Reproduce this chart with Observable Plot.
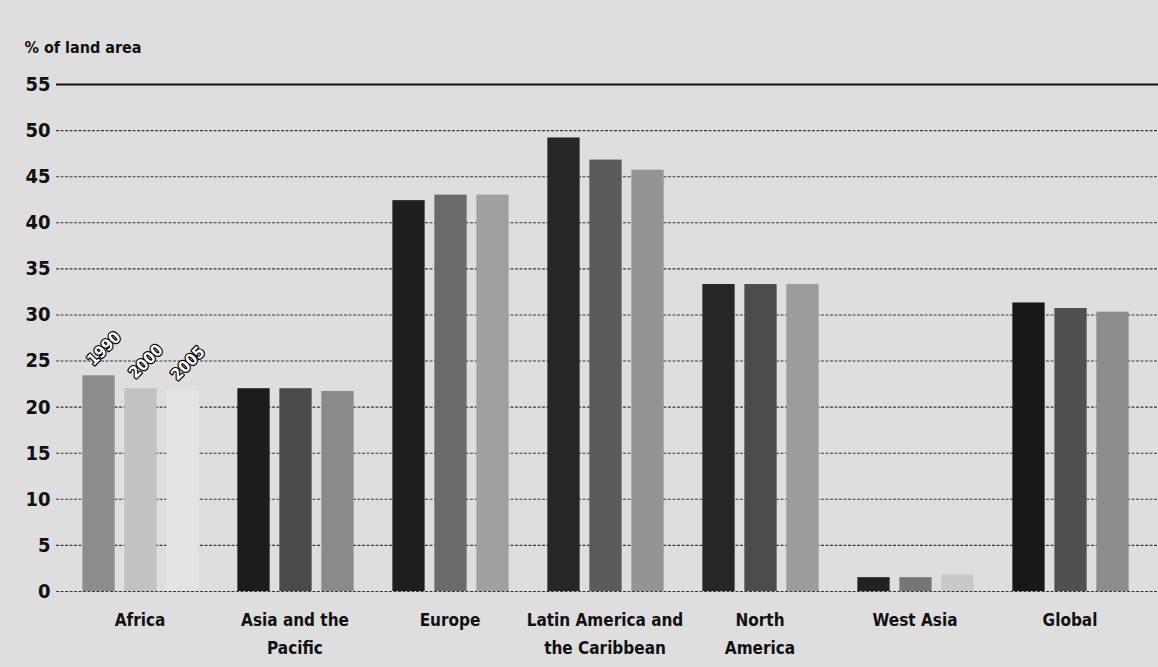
<!DOCTYPE html>
<html>
<head>
<meta charset="utf-8">
<script src="https://cdn.jsdelivr.net/npm/d3@7"></script>
<script src="https://cdn.jsdelivr.net/npm/@observablehq/plot@0.6"></script>
<style>
  html, body { margin: 0; padding: 0; background: #dedede; }
  #chart svg { display: block; }
</style>
</head>
<body>
<div id="chart"></div>
<script>
// ---- data ----
const regions = ["Africa", "Asia and the Pacific", "Europe", "Latin America and the Caribbean", "North America", "West Asia", "Global"];
const regionLabels = ["Africa", "Asia and the\nPacific", "Europe", "Latin America and\nthe Caribbean", "North\nAmerica", "West Asia", "Global"];
const years = ["1990", "2000", "2005"];
const forest1990 = [23.4, 22.0, 42.4, 49.2, 33.3, 1.5, 31.3];
const forest2000 = [22.0, 22.0, 43.0, 46.8, 33.3, 1.5, 30.7];
const forest2005 = [21.8, 21.7, 43.0, 45.7, 33.3, 1.8, 30.3];
const yTicks = [0, 5, 10, 15, 20, 25, 30, 35, 40, 45, 50, 55];
const yLabel = "% of land area";

// ---- styles ----
const shades = {
  "Africa": ["#8c8c8c", "#c2c2c2", "#e4e4e4"],
  "Asia and the Pacific": ["#1c1c1c", "#4a4a4a", "#8a8a8a"],
  "Europe": ["#1e1e1e", "#6a6a6a", "#a0a0a0"],
  "Latin America and the Caribbean": ["#262626", "#5a5a5a", "#949494"],
  "North America": ["#262626", "#4c4c4c", "#9c9c9c"],
  "West Asia": ["#222222", "#767676", "#c8c8c8"],
  "Global": ["#181818", "#505050", "#8c8c8c"]
};
const FONT = "'DejaVu Sans Condensed', 'DejaVu Sans', sans-serif";
const series = [forest1990, forest2000, forest2005];
const step = 155.7, barW = 33, barStep = 42;
const inset = (step - barW) / 2;

const marks = [
  Plot.ruleY(yTicks.filter(t => t < 55), {stroke: "#3a3a3a", strokeWidth: 1.1, strokeDasharray: "3,1.5"}),
  Plot.ruleY([55], {stroke: "#111", strokeWidth: 2.2})
];

series.forEach((vals, i) => {
  const rows = regions.map((r, j) => ({region: r, year: years[i], value: vals[j]}));
  marks.push(Plot.barY(rows, {
    x: "region", y: "value",
    fill: d => shades[d.region][i],
    dx: (i - 1) * barStep - 1,
    insetLeft: inset, insetRight: inset
  }));
  marks.push(Plot.text(rows.filter(d => d.region === "Africa"), {
    x: "region", y: "value", text: "year",
    dx: (i - 1) * barStep - 10, dy: -13,
    rotate: -45, textAnchor: "start",
    fill: "white", stroke: "black", strokeWidth: 2.4,
    fontSize: 16, fontWeight: "bold", fontFamily: FONT
  }));
});

marks.push(Plot.text(regions, {
  x: d => d, text: (d, i) => regionLabels[i],
  dx: -2,
  frameAnchor: "bottom", lineAnchor: "top", dy: 15, lineHeight: 1.62,
  fontSize: 17, fontWeight: "bold", fontFamily: FONT, fill: "#111"
}));
marks.push(Plot.text([yLabel], {
  frameAnchor: "top-left", textAnchor: "start", lineAnchor: "middle",
  dx: -32, dy: -37,
  fontSize: 16, fontWeight: "bold", fontFamily: FONT, fill: "#111"
}));

const chart = Plot.plot({
  width: 1158,
  height: 667,
  marginLeft: 56,
  marginRight: 0,
  marginTop: 84,
  marginBottom: 76,
  style: {background: "#dedede", fontFamily: FONT, fontWeight: "bold", fontSize: "20px", color: "#111"},
  x: {type: "band", domain: regions, range: [61, 1151], padding: 0, axis: null},
  y: {domain: [0, 55], ticks: yTicks, tickSize: 0, tickPadding: 6, label: null},
  color: {type: "identity"},
  marks
});
document.getElementById("chart").appendChild(chart);
</script>
</body>
</html>
